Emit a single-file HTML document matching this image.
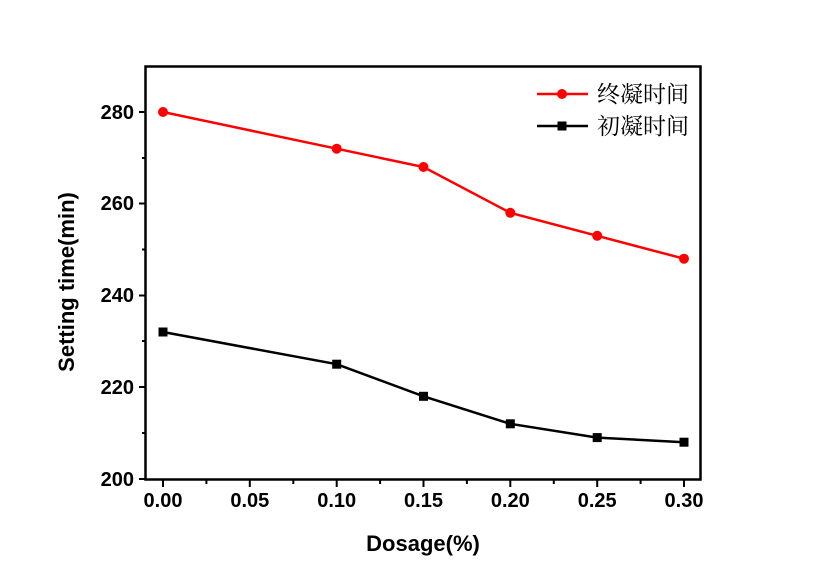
<!DOCTYPE html>
<html><head><style>body{margin:0;background:#fff}</style></head><body>
<svg width="814" height="575" xmlns="http://www.w3.org/2000/svg" font-family="Liberation Sans, sans-serif">
<rect x="145.5" y="66.5" width="555" height="413" fill="none" stroke="#000" stroke-width="2.5"/>
<g stroke="#000" stroke-width="2">
<line x1="139" y1="479" x2="145" y2="479"/><line x1="139" y1="387" x2="145" y2="387"/><line x1="139" y1="295.5" x2="145" y2="295.5"/><line x1="139" y1="203.5" x2="145" y2="203.5"/><line x1="139" y1="112" x2="145" y2="112"/>
<line x1="142" y1="433" x2="145" y2="433"/><line x1="142" y1="341" x2="145" y2="341"/><line x1="142" y1="249.5" x2="145" y2="249.5"/><line x1="142" y1="158" x2="145" y2="158"/>
<line x1="163" y1="480" x2="163" y2="487"/><line x1="249.8" y1="480" x2="249.8" y2="487"/><line x1="336.7" y1="480" x2="336.7" y2="487"/><line x1="423.5" y1="480" x2="423.5" y2="487"/><line x1="510.3" y1="480" x2="510.3" y2="487"/><line x1="597.2" y1="480" x2="597.2" y2="487"/><line x1="684" y1="480" x2="684" y2="487"/>
<line x1="206.4" y1="480" x2="206.4" y2="484"/><line x1="293.3" y1="480" x2="293.3" y2="484"/><line x1="380.1" y1="480" x2="380.1" y2="484"/><line x1="466.9" y1="480" x2="466.9" y2="484"/><line x1="553.8" y1="480" x2="553.8" y2="484"/><line x1="640.6" y1="480" x2="640.6" y2="484"/>
</g>
<g font-size="20" font-weight="bold" text-anchor="end">
<text x="134" y="486">200</text><text x="134" y="394">220</text><text x="134" y="302">240</text><text x="134" y="210">260</text><text x="134" y="119">280</text>
</g>
<g font-size="20" font-weight="bold" text-anchor="middle">
<text x="163" y="507">0.00</text><text x="249.8" y="507">0.05</text><text x="336.7" y="507">0.10</text><text x="423.5" y="507">0.15</text><text x="510.3" y="507">0.20</text><text x="597.2" y="507">0.25</text><text x="684" y="507">0.30</text>
<text x="423" y="551" font-size="22">Dosage(%)</text>
<text transform="translate(74,282) rotate(-90)" font-size="22">Setting time(min)</text>
</g>
<polyline fill="none" stroke="#f00" stroke-width="2.5" points="163,112 336.7,148.7 423.5,167 510.3,212.8 597.2,235.8 684,258.7"/>
<g fill="#f00"><circle cx="163" cy="112" r="5"/><circle cx="336.7" cy="148.7" r="5"/><circle cx="423.5" cy="167" r="5"/><circle cx="510.3" cy="212.8" r="5"/><circle cx="597.2" cy="235.8" r="5"/><circle cx="684" cy="258.7" r="5"/><circle cx="562" cy="94" r="5"/></g>
<line x1="537" y1="94" x2="588" y2="94" stroke="#f00" stroke-width="2.5"/>
<polyline fill="none" stroke="#000" stroke-width="2.5" points="163,332 336.7,364.2 423.5,396.3 510.3,423.8 597.2,437.6 684,442.2"/>
<g fill="#000"><rect x="158.5" y="327.5" width="9" height="9"/><rect x="332.2" y="359.7" width="9" height="9"/><rect x="419" y="391.8" width="9" height="9"/><rect x="505.8" y="419.3" width="9" height="9"/><rect x="592.7" y="433.1" width="9" height="9"/><rect x="679.5" y="437.7" width="9" height="9"/><rect x="557.5" y="121.5" width="9" height="9"/></g>
<line x1="537" y1="126" x2="588" y2="126" stroke="#000" stroke-width="2.5"/>
<g font-family="Liberation Serif, Noto Serif CJK SC, serif" font-size="23">
<text x="597" y="102">终凝时间</text><text x="597" y="134">初凝时间</text>
</g>
</svg>
</body></html>
